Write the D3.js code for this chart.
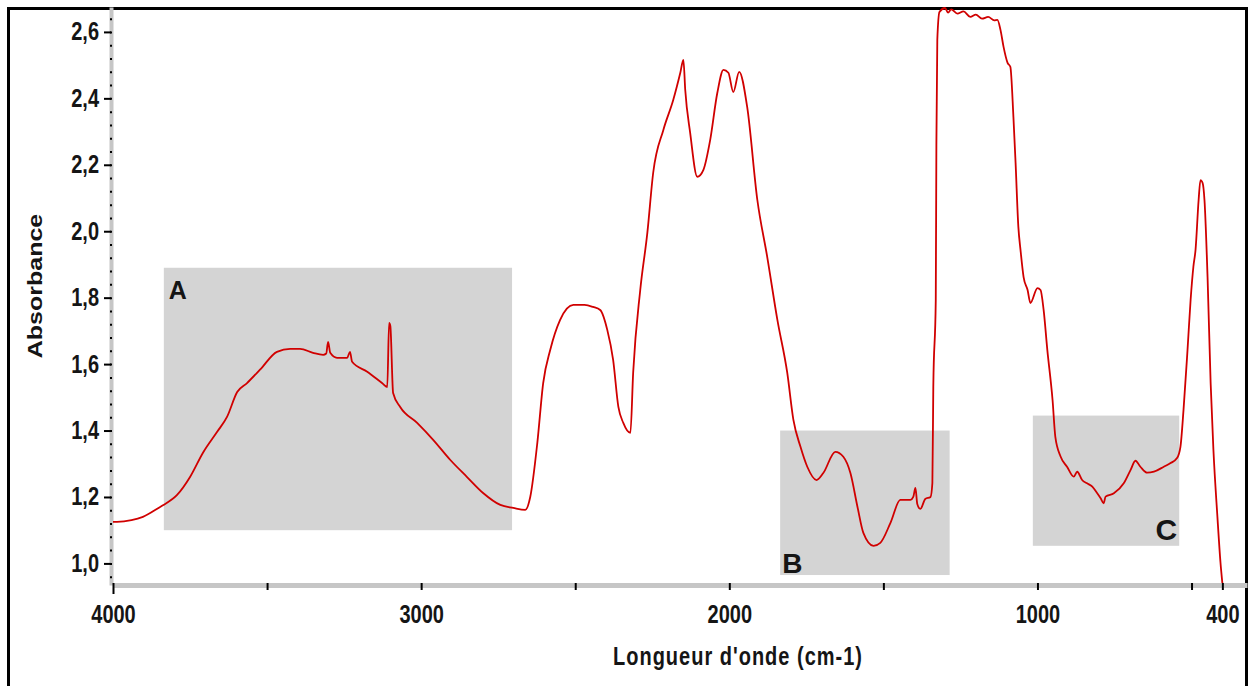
<!DOCTYPE html>
<html>
<head>
<meta charset="utf-8">
<script src="https://cdn.jsdelivr.net/npm/d3@7"></script>
<style>
  body { margin: 0; background: #fff; }
  svg { display: block; }
  text { font-family: "Liberation Sans", Arial, sans-serif; font-weight: bold; fill: #151515; }
</style>
</head>
<body>
<svg id="canvas" width="1248" height="686"></svg>
<script>
// spectrum (cm-1 / absorbance)
var wavenumber = [4000,3987,3940,3903,3847,3838,3792,3750,3708,3662,3630,3597,3565,3523,3468,3425,3393,3351,3318,3308,3302,3295,3273,3240,3231,3224,3175,3127,3110,3104,3100,3091,3068,3013,2961,2906,2851,2799,2743,2701,2662,2646,2623,2604,2581,2549,2506,2470,2442,2419,2396,2377,2360,2344,2321,2312,2289,2266,2247,2214,2182,2159,2149,2143,2127,2104,2084,2062,2039,2019,2003,1987,1968,1942,1909,1877,1844,1812,1792,1769,1747,1717,1695,1656,1630,1607,1584,1565,1532,1510,1477,1445,1412,1403,1396,1390,1380,1364,1347,1341,1338,1330,1328,1325,1318,1300,1290,1280,1260,1240,1218,1200,1180,1160,1140,1130,1120,1110,1097,1088,1078,1071,1062,1055,1045,1032,1023,1000,990,980,968,951,942,925,904,882,871,855,839,822,806,795,785,779,752,720,698,682,666,644,622,590,568,547,536,526,513,503,494,487,477,471,464,458,448,438,429,416,406,400];
var absorbance = [1.125,1.125,1.13,1.14,1.17,1.175,1.206,1.26,1.333,1.396,1.441,1.516,1.543,1.583,1.637,1.646,1.646,1.634,1.628,1.632,1.667,1.634,1.619,1.619,1.637,1.607,1.577,1.543,1.531,1.724,1.715,1.513,1.471,1.423,1.372,1.312,1.26,1.212,1.176,1.167,1.161,1.2,1.363,1.543,1.643,1.733,1.778,1.778,1.772,1.763,1.703,1.613,1.471,1.423,1.393,1.574,1.823,1.995,2.176,2.305,2.395,2.477,2.516,2.425,2.296,2.164,2.185,2.275,2.416,2.486,2.477,2.419,2.48,2.374,2.094,1.923,1.733,1.574,1.432,1.351,1.291,1.251,1.272,1.336,1.321,1.272,1.17,1.092,1.053,1.062,1.122,1.191,1.191,1.2,1.227,1.179,1.164,1.194,1.2,1.242,1.531,1.793,2.26,2.576,2.66,2.672,2.658,2.668,2.655,2.662,2.645,2.652,2.64,2.645,2.635,2.636,2.606,2.555,2.507,2.495,2.344,2.206,2.013,1.944,1.862,1.823,1.784,1.829,1.823,1.763,1.643,1.492,1.381,1.322,1.291,1.261,1.276,1.251,1.241,1.231,1.211,1.196,1.181,1.201,1.211,1.241,1.281,1.309,1.291,1.273,1.276,1.291,1.302,1.317,1.351,1.462,1.643,1.793,1.893,1.944,2.094,2.154,2.145,2.094,1.862,1.543,1.342,1.14,1.002,0.941];

// shaded regions
var regionLabels = ['A', 'B', 'C'];
var regionWn = [[3835, 2705], [1835, 1285], [1015, 540]];
var regionAbs = [[1.10, 1.89], [0.965, 1.40], [1.053, 1.445]];

// ticks
var yTicks = [1.0, 1.2, 1.4, 1.6, 1.8, 2.0, 2.2, 2.4, 2.6];
var xTicks = [4000, 3500, 3000, 2500, 2000, 1500, 1000, 500, 400];
var xLabels = [4000, 3000, 2000, 1000, 400];

var svg = d3.select('#canvas');

var x = d3.scaleLinear().domain([4000, 320]).range([113, 1247]);
var y = d3.scaleLinear().domain([0.935, 2.675]).range([585, 7]);

// frame
svg.append('rect')
  .attr('x', 8.5).attr('y', 8.5).attr('width', 1238).attr('height', 700)
  .attr('fill', 'none').attr('stroke', '#000').attr('stroke-width', 3);

// gray boxes
var regions = svg.append('g');
regionLabels.forEach(function(lab, i){
  var x0 = x(regionWn[i][0]), x1 = x(regionWn[i][1]);
  var y0 = y(regionAbs[i][1]), y1 = y(regionAbs[i][0]);
  regions.append('rect')
    .attr('x', x0).attr('y', y0).attr('width', x1 - x0).attr('height', y1 - y0)
    .attr('fill', '#d4d4d4');
});
// letters: A top-left, B bottom-left, C bottom-right
regions.append('text').text(regionLabels[0]).attr('font-size', 25)
  .attr('x', x(regionWn[0][0]) + 5).attr('y', y(regionAbs[0][1]) + 31);
regions.append('text').text(regionLabels[1]).attr('font-size', 28)
  .attr('x', x(regionWn[1][0]) + 2).attr('y', y(regionAbs[1][0]) - 2);
regions.append('text').text(regionLabels[2]).attr('font-size', 30).attr('text-anchor', 'end')
  .attr('x', x(regionWn[2][1]) - 2).attr('y', y(regionAbs[2][0]) - 6);

// y axis
var yAxis = svg.append('g').attr('transform', 'translate(111,0)')
  .call(d3.axisLeft(y).tickValues(yTicks).tickSize(7).tickSizeOuter(0).tickPadding(5)
    .tickFormat(function(d){ return d.toFixed(1).replace('.', ','); }));
yAxis.select('.domain').attr('stroke', '#c6c6c6').attr('stroke-width', 4);
yAxis.selectAll('.tick line').attr('stroke', '#000').attr('stroke-width', 2);
yAxis.selectAll('.tick text').attr('font-size', 20).attr('font-family', null)
  .attr('transform', 'scale(1,1.25)');

var yMinor = svg.append('g').attr('transform', 'translate(112,0)')
  .call(d3.axisLeft(y).tickValues(d3.range(0.96, 2.67, 0.04)).tickSize(2).tickSizeOuter(0).tickFormat(''));
yMinor.select('.domain').remove();
yMinor.selectAll('.tick line').attr('stroke', '#000').attr('stroke-width', 2);

// x axis
var xAxis = svg.append('g').attr('transform', 'translate(0,585)')
  .call(d3.axisBottom(x).tickValues(xTicks).tickSize(5).tickSizeOuter(0)
    .tickFormat(function(d){ return xLabels.indexOf(d) >= 0 ? d : ''; }));
xAxis.select('.domain').attr('stroke', '#c6c6c6').attr('stroke-width', 5);
xAxis.selectAll('.tick line').attr('stroke', '#000').attr('stroke-width', 2).attr('y1', -2);
xAxis.selectAll('.tick line').filter(function(d){ return d === 4000; }).attr('y2', 9);
xAxis.selectAll('.tick text').attr('font-size', 20).attr('font-family', null)
  .attr('y', 30.4).attr('dy', 0).attr('transform', 'scale(1,1.25)');

// spectrum
var line = d3.line().curve(d3.curveMonotoneX)
  .x(function(d){ return x(d[0]); }).y(function(d){ return y(d[1]); });
svg.append('path')
  .datum(d3.zip(wavenumber, absorbance))
  .attr('d', line)
  .attr('fill', 'none')
  .attr('stroke', '#d00000')
  .attr('stroke-width', 1.8)
  .attr('stroke-linejoin', 'round');

// axis titles
svg.append('text').text('Absorbance')
  .attr('font-size', 20).attr('text-anchor', 'middle')
  .attr('transform', 'translate(42,286) rotate(-90) scale(1.25,1)');
svg.append('text').text("Longueur d'onde (cm-1)")
  .attr('font-size', 20).attr('text-anchor', 'middle').attr('letter-spacing', 1)
  .attr('transform', 'translate(738,665) scale(1,1.25)');
</script>
</body>
</html>
